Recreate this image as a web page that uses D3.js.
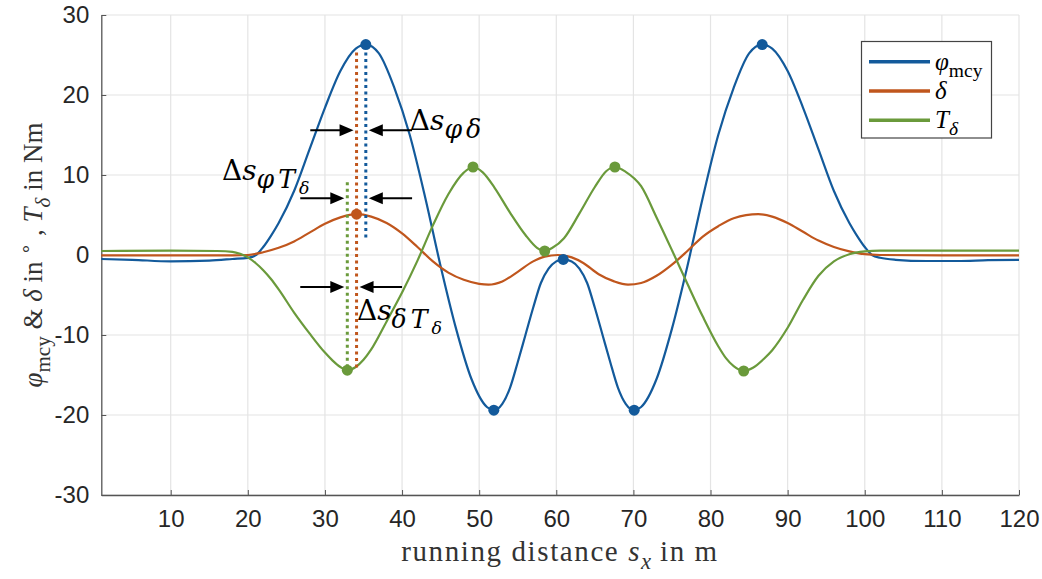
<!DOCTYPE html>
<html>
<head>
<meta charset="utf-8">
<script src="https://cdn.jsdelivr.net/npm/d3@7"></script>
<style>
  body { margin: 0; background: #fff; }
  svg { display: block; }
</style>
</head>
<body>
<svg width="1042" height="579"></svg>
<script>
// running distance (m) and values
const phiS = [1, 5, 10, 15, 18, 20, 21, 22, 23, 24, 26, 28, 30, 32, 34, 35.3, 37, 39, 41, 43, 45, 47, 49, 51, 51.9,
  53, 54, 55, 56, 57, 58, 59, 60, 60.9, 62, 63, 64, 65, 66, 67, 68, 69, 70.1, 71, 73, 75, 77, 79, 81, 83, 85, 86.7,
  88, 90, 92, 94, 96, 98, 99, 100, 101, 102, 104, 108, 112, 116, 120];
const phiV = [-0.5, -0.6, -0.8, -0.7, -0.5, -0.35, -0.05, 1.0, 2.4, 4.0, 8.0, 13.2, 18.4, 23.0, 25.8, 26.3, 25.2, 20.9, 15.0, 7.2, -1.4, -9.2, -15.5, -19.0, -19.4,
  -18.6, -16.6, -13.4, -10.0, -6.6, -3.5, -1.7, -0.8, -0.55, -0.8, -1.7, -3.5, -6.6, -10.0, -13.4, -16.6, -18.6, -19.4, -19.0, -15.5, -9.2, -1.4, 7.2, 15.0, 20.9, 25.2, 26.3,
  25.8, 23.0, 18.4, 13.2, 8.0, 4.0, 2.4, 1.0, -0.05, -0.35, -0.6, -0.75, -0.75, -0.65, -0.6];

const deltaS = [1, 10, 18, 20, 22, 24, 26, 28, 30, 32, 34.1, 36, 38, 40, 42, 44, 46, 48, 50, 51.2, 53, 55, 57, 58.5, 60.2,
  62, 63.5, 65.5, 67.5, 69.3, 71, 73, 75, 77, 79, 81, 83, 86.2, 88, 90, 92, 94, 96, 98, 100, 102, 110, 120];
const deltaV = [-0.05, -0.05, -0.05, 0, 0.35, 0.9, 1.7, 2.8, 3.9, 4.7, 5.1, 4.8, 4.0, 2.7, 1.0, -0.8, -2.2, -3.1, -3.6, -3.7, -3.3, -2.1, -0.8, -0.2, 0,
  -0.3, -1.0, -2.4, -3.3, -3.7, -3.5, -2.6, -1.2, 0.5, 2.3, 3.6, 4.6, 5.1, 4.8, 4.0, 2.9, 1.8, 1.0, 0.45, 0.1, 0, -0.05, -0.05];

const torqueS = [1, 10, 16, 18, 19, 20, 21, 22, 23, 24, 26, 28, 30, 31, 32, 32.9, 34, 35, 36, 38, 40, 42, 44, 46, 48, 49.2, 50.5, 52, 54, 56, 57.5, 58.5,
  59.5, 61, 63, 65, 66.5, 67.6, 69, 71, 73, 75, 77, 79, 81, 82, 83, 84.3, 85.5, 87, 88, 90, 92, 94, 96, 98, 100, 102, 110, 120];
const torqueV = [0.5, 0.55, 0.5, 0.4, 0.15, -0.3, -1.0, -1.9, -3.0, -4.3, -7.2, -9.8, -12.2, -13.2, -14.0, -14.4, -14.0, -13.1, -11.8, -8.3, -4.7, -0.7, 3.7, 7.6, 10.3, 11.0, 10.3, 8.4, 5.3, 2.5, 0.9, 0.5,
  0.9, 2.1, 5.2, 8.5, 10.5, 11.0, 10.4, 8.6, 4.7, 0.6, -3.6, -7.7, -11.4, -12.9, -13.9, -14.5, -14.1, -12.9, -11.9, -9.1, -5.6, -2.6, -0.8, 0.1, 0.45, 0.55, 0.55, 0.55];

// marked extrema (positions on the curves)
const phiMarks = [35.3, 51.9, 60.9, 70.1, 86.7];
const deltaMarks = [34.1];
const torqueMarks = [32.9, 49.2, 58.5, 67.6, 84.3];

const xTicks = [10, 20, 30, 40, 50, 60, 70, 80, 90, 100, 110, 120];
const yTicks = [-30, -20, -10, 0, 10, 20, 30];

const blue = "#135a9b", orange = "#c0561d", green = "#6a9a3b";

const series = [
  { s: phiS, v: phiV, marks: phiMarks, color: blue },
  { s: deltaS, v: deltaV, marks: deltaMarks, color: orange },
  { s: torqueS, v: torqueV, marks: torqueMarks, color: green },
];

const svg = d3.select("svg");
const x = d3.scaleLinear([1, 120], [101.3, 1019]);
const y = d3.scaleLinear([-30, 30], [495, 15]);

// grid
svg.append("g").selectAll("line").data(xTicks).join("line")
  .attr("x1", d => x(d)).attr("x2", d => x(d))
  .attr("y1", y(-30)).attr("y2", y(30))
  .attr("stroke", "#e4e4e4").attr("stroke-width", 1.2);
svg.append("g").selectAll("line").data(yTicks).join("line")
  .attr("x1", x(1)).attr("x2", x(120))
  .attr("y1", d => y(d)).attr("y2", d => y(d))
  .attr("stroke", "#e4e4e4").attr("stroke-width", 1.2);

// axes
const styleAxis = g => {
  g.attr("font-family", "Liberation Sans, Arial, sans-serif").attr("font-size", 24);
  g.select(".domain").attr("stroke", "#555").attr("stroke-width", 1.3);
  g.selectAll(".tick line").attr("stroke", "#555");
  g.selectAll(".tick text").attr("fill", "#262626");
};
svg.append("g")
  .attr("transform", `translate(0,${y(-30)})`)
  .call(d3.axisBottom(x).tickValues(xTicks).tickFormat(d => String(d))
    .tickSizeInner(-5).tickSizeOuter(0).tickPadding(15))
  .call(styleAxis);
svg.append("g")
  .attr("transform", `translate(${x(1)},0)`)
  .call(d3.axisLeft(y).tickValues(yTicks).tickFormat(d => String(d))
    .tickSizeInner(-5).tickSizeOuter(0).tickPadding(12))
  .call(styleAxis);

// curves
const line = d3.line().x(d => x(d[0])).y(d => y(d[1])).curve(d3.curveMonotoneX);
series.forEach(se => {
  svg.append("path")
    .attr("d", line(se.s.map((s, i) => [s, se.v[i]])))
    .attr("fill", "none")
    .attr("stroke", se.color)
    .attr("stroke-width", 2.2);
});

// dotted phase markers
const dotted = [
  { s: 34.1, v0: 25.3, v1: -14.2, color: orange },
  { s: 35.3, v0: 25.3, v1: 2.1, color: blue },
  { s: 32.9, v0: 9.1, v1: -14.4, color: green },
];
svg.append("g").selectAll("line").data(dotted).join("line")
  .attr("x1", d => x(d.s)).attr("x2", d => x(d.s))
  .attr("y1", d => y(d.v0)).attr("y2", d => y(d.v1))
  .attr("stroke", d => d.color)
  .attr("stroke-width", 3)
  .attr("stroke-dasharray", "3,3.5");

// markers
series.forEach(se => {
  svg.append("g").selectAll("circle").data(se.marks).join("circle")
    .attr("cx", s => x(s))
    .attr("cy", s => y(se.v[se.s.indexOf(s)]))
    .attr("r", 5.5)
    .attr("fill", se.color);
});

// arrows
const arrows = [
  { v: 15.6, from: 28.1, to: 34.1, dir: 1 },
  { v: 15.6, from: 41.3, to: 35.3, dir: -1 },
  { v: 7.1, from: 26.8, to: 32.9, dir: 1 },
  { v: 7.1, from: 41.3, to: 35.3, dir: -1 },
  { v: -4.0, from: 26.8, to: 32.9, dir: 1 },
  { v: -4.0, from: 40.0, to: 34.1, dir: -1 },
];
const ag = svg.append("g");
arrows.forEach(a => {
  const tip = x(a.to) - a.dir * 3;
  const yy = y(a.v);
  ag.append("line")
    .attr("x1", x(a.from)).attr("x2", tip - a.dir * 10)
    .attr("y1", yy).attr("y2", yy)
    .attr("stroke", "#000").attr("stroke-width", 2);
  ag.append("path")
    .attr("d", `M${tip},${yy}L${tip - a.dir * 14},${yy - 6}L${tip - a.dir * 14},${yy + 6}Z`)
    .attr("fill", "#000");
});

// math text helper: lvl 0 base, 1 subscript, 2 sub-subscript, -1 superscript
function mathText(g, px, py, parts, size, family, subScale = 0.78, spacing = 0) {
  const sizes = { "-1": size * 0.7, 0: size, 1: size * subScale, 2: size * 0.62 };
  const offs = { "-1": -size * 0.38, 0: 0, 1: size * 0.28, 2: size * 0.5 };
  const t = g.append("text").attr("x", px).attr("y", py)
    .attr("font-family", family).attr("font-size", size).attr("fill", "#000");
  let prev = 0;
  parts.forEach(p => {
    const lvl = p.l || 0;
    const sp = lvl === 1 ? spacing : null;
    t.append("tspan")
      .attr("dy", offs[lvl] - offs[prev])
      .attr("font-size", sizes[lvl])
      .attr("font-style", p.i ? "italic" : "normal")
      .attr("letter-spacing", sp)
      .text(p.t);
    prev = lvl;
  });
  return t;
}

const annFont = "DejaVu Serif, serif";
mathText(svg, x(41.0), y(15.6), [{ t: "Δ" }, { t: "s", i: 1 }, { t: "φδ", i: 1, l: 1 }], 28, annFont, 0.9, 4);
mathText(svg, x(16.65), y(9.4), [{ t: "Δ" }, { t: "s", i: 1 }, { t: "φT", i: 1, l: 1 }, { t: "δ", i: 1, l: 2 }], 28, annFont, 0.9, 4);
mathText(svg, x(34.15), y(-8.1), [{ t: "Δ" }, { t: "s", i: 1 }, { t: "δT", i: 1, l: 1 }, { t: "δ", i: 1, l: 2 }], 28, annFont, 0.9, 4);

// axis titles
const labFont = "Liberation Serif, Times New Roman, serif";
mathText(svg, 560, 561, [{ t: "running distance " }, { t: "s", i: 1 }, { t: "x", i: 1, l: 1 }, { t: " in m" }], 29, labFont)
  .attr("text-anchor", "middle").attr("fill", "#333").attr("letter-spacing", 1.6);
mathText(svg.append("g").attr("transform", "translate(42,255) rotate(-90)"), 0, 0,
  [{ t: "φ", i: 1 }, { t: "mcy", l: 1 }, { t: " & " }, { t: "δ", i: 1 }, { t: " in " }, { t: "∘", l: -1 },
   { t: " , " }, { t: "T", i: 1 }, { t: "δ", i: 1, l: 1 }, { t: " in Nm" }], 27, labFont)
  .attr("text-anchor", "middle").attr("fill", "#333");

// legend
const legend = svg.append("g");
legend.append("rect").attr("x", 861.5).attr("y", 41.5).attr("width", 130).attr("height", 96.5)
  .attr("fill", "#fff").attr("stroke", "#444").attr("stroke-width", 1.2);
const legendLabels = [
  [{ t: "φ", i: 1 }, { t: "mcy", l: 1 }],
  [{ t: "δ", i: 1 }],
  [{ t: "T", i: 1 }, { t: "δ", i: 1, l: 1 }],
];
series.forEach((se, i) => {
  const ly = 61.7 + i * 29.3;
  legend.append("line").attr("x1", 869).attr("x2", 930).attr("y1", ly).attr("y2", ly)
    .attr("stroke", se.color).attr("stroke-width", 3.5);
  mathText(legend, 935, ly + 8, legendLabels[i], 25, labFont);
});
</script>
</body>
</html>
